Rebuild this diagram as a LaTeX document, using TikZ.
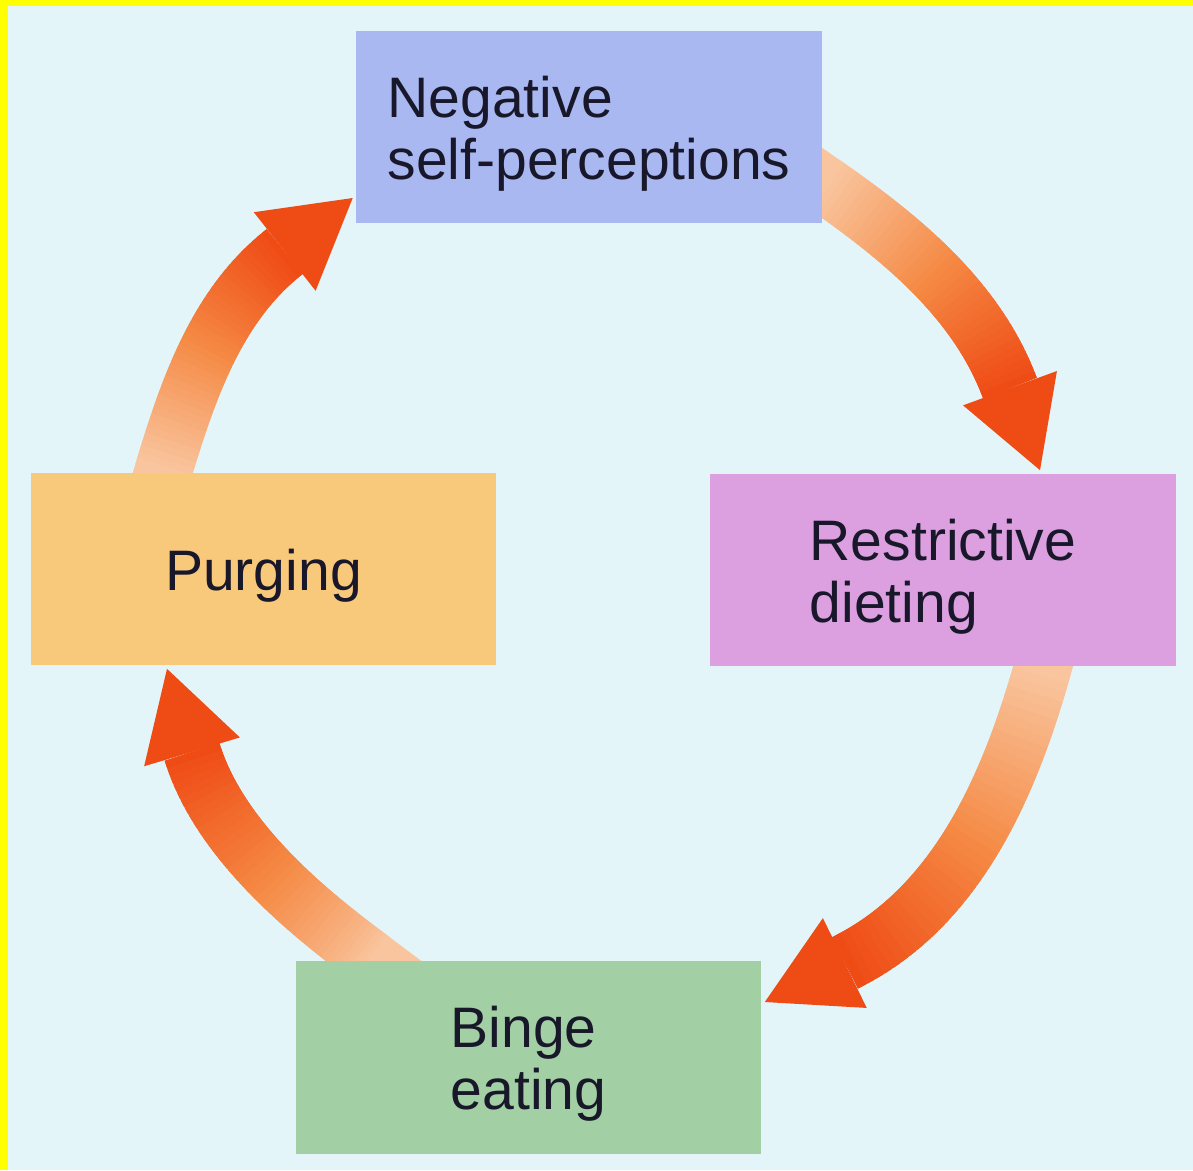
\documentclass[tikz,border=0pt]{standalone}
\usepackage{fontspec}
\setmainfont{Liberation Sans}
\usetikzlibrary{calc}

\definecolor{bgcyan}{HTML}{E3F5F8}
\definecolor{frameyellow}{HTML}{FFFF00}
\definecolor{negblue}{HTML}{A9B8F0}
\definecolor{dietpink}{HTML}{DCA0E0}
\definecolor{bingegreen}{HTML}{A2CFA3}
\definecolor{purgeorange}{HTML}{F8C97B}
\definecolor{arrowpeach}{HTML}{F9C59E}
\definecolor{arroworange}{HTML}{F58A45}
\definecolor{arrowred}{HTML}{EF4B15}
\definecolor{textdark}{HTML}{18182A}

\newcommand{\stagelift}{\rule{0pt}{31pt}}

\pgfdeclarelayer{back}
\pgfdeclarelayer{arrows}
\pgfsetlayers{back,arrows,main}

\tikzset{
  stage/.style={rectangle, inner sep=0pt, minimum width=9.32cm, minimum height=3.86cm,
    align=left, text=textdark, font=\fontsize{32.5}{35.2}\selectfont},
  shaft/.style={line width=1.15cm, line cap=butt},
}

\begin{document}
\begin{tikzpicture}[x=0.02cm, y=-0.02cm]
\useasboundingbox (0,0) rectangle (1193,1170);

% background
\begin{pgfonlayer}{back}
  \fill[bgcyan] (0,0) rectangle (1193,1170);
  \fill[frameyellow] (0,0) rectangle (1193,6);
  \fill[frameyellow] (0,0) rectangle (8,1170);
\end{pgfonlayer}

% stages
\node[stage, fill=negblue] (neg) at (589,127) {\stagelift Negative\\self-perceptions};
\node[stage, fill=dietpink] (diet) at (943,570) {\stagelift Restrictive\\dieting};
\node[stage, fill=bingegreen] (binge) at (528.5,1057.5) {\stagelift Binge\\eating};
\node[stage, fill=purgeorange] (purge) at (263.5,569) {\stagelift Purging};

% arrow ends
\coordinate (s1) at ($(neg.east)+(0,56)$);
\coordinate (t1) at ($(diet.north)+(97,-3)$);
\coordinate (e1) at ($(t1)+(-30,-82)$);
\coordinate (sc1) at ($(s1)+(78,54)$);
\coordinate (ec1) at ($(e1)+(-33,-89)$);

\coordinate (s2) at ($(diet.south)+(100,0)$);
\coordinate (t2) at ($(binge.east)+(3,-55.5)$);
\coordinate (e2) at ($(t2)+(80,-39)$);
\coordinate (sc2) at ($(s2)+(-33.5,119)$);
\coordinate (ec2) at ($(e2)+(112,-55)$);

\coordinate (s3) at ($(binge.north)+(-155.5,0)$);
\coordinate (t3) at ($(purge.south)+(-96.5,3)$);
\coordinate (e3) at ($(t3)+(25,83)$);
\coordinate (sc3) at ($(s3)+(-48,-36)$);
\coordinate (ec3) at ($(e3)+(29,96)$);

\coordinate (s4) at ($(purge.north)+(-100.5,0)$);
\coordinate (t4) at ($(neg.west)+(-3,71)$);
\coordinate (e4) at ($(t4)+(-68,53.5)$);
\coordinate (sc4) at ($(s4)+(25,-83)$);
\coordinate (ec4) at ($(e4)+(-68,53)$);

% shaded arrows
\begin{pgfonlayer}{arrows}
\foreach \n in {1,...,4}{
  \foreach \i [evaluate=\i as \t using \i/40] in {0,...,40}{
    \path (s\n) .. controls (sc\n) and (ec\n) .. (e\n) coordinate[pos=\t] (p\n-\i);
  }
  % tail hidden under the box
  \draw[shaft, arrowpeach] ($(p\n-0)!-1cm!(p\n-1)$) -- (p\n-1);
  \foreach \i [evaluate={\i as \j using int(min(\i+2,40))},
               evaluate={\i as \a using int(min(200*\i/39,100))},
               evaluate={\i as \b using int(max(200*\i/39-100,0))}] in {0,...,39}{
    \colorlet{shaftmix}{arroworange!\a!arrowpeach}
    \draw[shaft, arrowred!\b!shaftmix] (p\n-\i) -- (p\n-\j);
  }
  \fill[arrowred] (t\n) -- ($(e\n)!1cm!90:(t\n)$) -- ($(e\n)!1cm!-90:(t\n)$) -- cycle;
}
\end{pgfonlayer}

\end{tikzpicture}
\end{document}
